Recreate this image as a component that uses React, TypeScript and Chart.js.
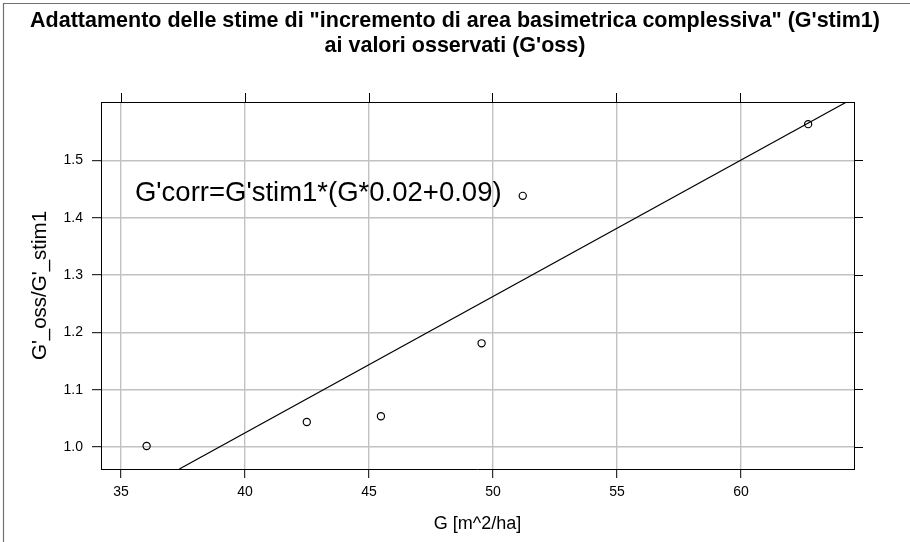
import React, { useEffect, useRef } from "react";
import { Chart, registerables } from "chart.js";

Chart.register(...registerables);

// ---- data ----
const titleLines = [
  'Adattamento delle stime di "incremento di area basimetrica complessiva" (G\'stim1)',
  "ai valori osservati (G'oss)",
];
const xTitle = "G [m^2/ha]";
const yTitle = "G'_oss/G'_stim1";
const annotationText = "G'corr=G'stim1*(G*0.02+0.09)";
const annotationG = 35.56;
const annotationRatio = 1.443;

const gValues = [36.03, 42.49, 45.48, 49.54, 51.2, 62.71];
const ratioValues = [1.002, 1.044, 1.054, 1.181, 1.438, 1.563];

const lineG = [37.35, 64.26];
const lineRatio = [0.962, 1.6016];

const xTickValues = [35, 40, 45, 50, 55, 60];
const yTickValues = [1.0, 1.1, 1.2, 1.3, 1.4, 1.5];
const xRange = [34.19, 64.56];
const yRange = [0.962, 1.6016];

const FONT = "'Liberation Sans', Arial, Helvetica, sans-serif";

export default function App() {
  const canvasRef = useRef<HTMLCanvasElement | null>(null);

  useEffect(() => {
    const canvas = canvasRef.current;
    if (!canvas) return;

    const setXTicks = (scale: any) => {
      scale.ticks = xTickValues.map((v) => ({ value: v }));
    };
    const setYTicks = (scale: any) => {
      scale.ticks = yTickValues.map((v) => ({ value: v }));
    };

    const framePlugin = {
      id: "frame",
      beforeDraw(chart: any) {
        const ctx = chart.ctx;
        ctx.save();
        ctx.strokeStyle = "#707070";
        ctx.lineWidth = 1.2;
        ctx.beginPath();
        ctx.moveTo(3.5, chart.height);
        ctx.lineTo(3.5, 3.5);
        ctx.lineTo(chart.width, 3.5);
        ctx.stroke();
        ctx.restore();
      },
    };

    const annotationPlugin = {
      id: "annotationText",
      afterDatasetsDraw(chart: any) {
        const ctx = chart.ctx;
        const xs = chart.scales.x;
        const ys = chart.scales.y;
        ctx.save();
        ctx.font = `27.5px ${FONT}`;
        ctx.fillStyle = "#000";
        ctx.textAlign = "left";
        ctx.textBaseline = "middle";
        ctx.fillText(
          annotationText,
          xs.getPixelForValue(annotationG),
          ys.getPixelForValue(annotationRatio)
        );
        ctx.restore();
      },
    };

    const gridColor = "#c2c2c2";

    const chart = new Chart(canvas, {
      type: "scatter",
      data: {
        datasets: [
          {
            label: "osservati",
            data: gValues.map((g, i) => ({ x: g, y: ratioValues[i] })),
            showLine: false,
            pointStyle: "circle",
            pointRadius: 3.6,
            pointBorderWidth: 1.2,
            pointBorderColor: "#000",
            pointBackgroundColor: "rgba(0,0,0,0)",
          },
          {
            label: "retta",
            data: lineG.map((g, i) => ({ x: g, y: lineRatio[i] })),
            showLine: true,
            borderColor: "#000",
            borderWidth: 1.2,
            pointRadius: 0,
            fill: false,
          },
        ],
      },
      options: {
        animation: false,
        responsive: false,
        devicePixelRatio: 1,
        layout: { padding: 0 },
        plugins: {
          legend: { display: false },
          tooltip: { enabled: false },
          title: {
            display: true,
            text: titleLines,
            color: "#000",
            font: { family: FONT, size: 21.5, weight: "bold", lineHeight: 24.5 / 21.5 },
            padding: { top: 9, bottom: 0 },
          },
        },
        scales: {
          x: {
            type: "linear",
            position: "bottom",
            min: xRange[0],
            max: xRange[1],
            afterBuildTicks: setXTicks,
            afterFit: (s: any) => {
              s.height = 73;
            },
            grid: {
              color: gridColor,
              lineWidth: 1.4,
              tickColor: "#000",
              tickLength: 9,
              tickWidth: 1,
            },
            border: { display: true, color: "#000", width: 1 },
            ticks: {
              color: "#000",
              padding: 6,
              maxRotation: 0,
              font: { family: FONT, size: 14 },
              callback: (v: any) => String(v),
            },
            title: {
              display: true,
              text: xTitle,
              color: "#000",
              font: { family: FONT, size: 18, lineHeight: 1.2 },
              padding: { top: 0, bottom: 7 },
            },
          },
          x2: {
            type: "linear",
            position: "top",
            min: xRange[0],
            max: xRange[1],
            afterBuildTicks: setXTicks,
            afterFit: (s: any) => {
              s.height = 44;
            },
            grid: {
              drawOnChartArea: false,
              tickColor: "#000",
              tickLength: 9,
              tickWidth: 1,
            },
            border: { display: true, color: "#000", width: 1 },
            ticks: { display: false },
          },
          y: {
            type: "linear",
            position: "left",
            min: yRange[0],
            max: yRange[1],
            afterBuildTicks: setYTicks,
            afterFit: (s: any) => {
              s.width = 101;
            },
            grid: {
              color: gridColor,
              lineWidth: 1.4,
              tickColor: "#000",
              tickLength: 9,
              tickWidth: 1,
            },
            border: { display: true, color: "#000", width: 1 },
            ticks: {
              color: "#000",
              padding: 9,
              font: { family: FONT, size: 14 },
              callback: (v: any) => Number(v).toFixed(1),
            },
            title: {
              display: true,
              text: yTitle,
              color: "#000",
              font: { family: FONT, size: 20.5, lineHeight: 1.2 },
              padding: { top: 28, bottom: 0 },
            },
          },
          y2: {
            type: "linear",
            position: "right",
            min: yRange[0],
            max: yRange[1],
            afterBuildTicks: setYTicks,
            afterFit: (s: any) => {
              s.width = 56;
            },
            grid: {
              drawOnChartArea: false,
              tickColor: "#000",
              tickLength: 9,
              tickWidth: 1,
            },
            border: { display: true, color: "#000", width: 1 },
            ticks: { display: false },
          },
        },
      } as any,
      plugins: [framePlugin, annotationPlugin],
    });

    return () => {
      chart.destroy();
    };
  }, []);

  return (
    <div style={{ position: "absolute", left: 0, top: 0, width: 910, height: 542, background: "#fff" }}>
      <canvas ref={canvasRef} width={910} height={542} style={{ display: "block" }} />
    </div>
  );
}
